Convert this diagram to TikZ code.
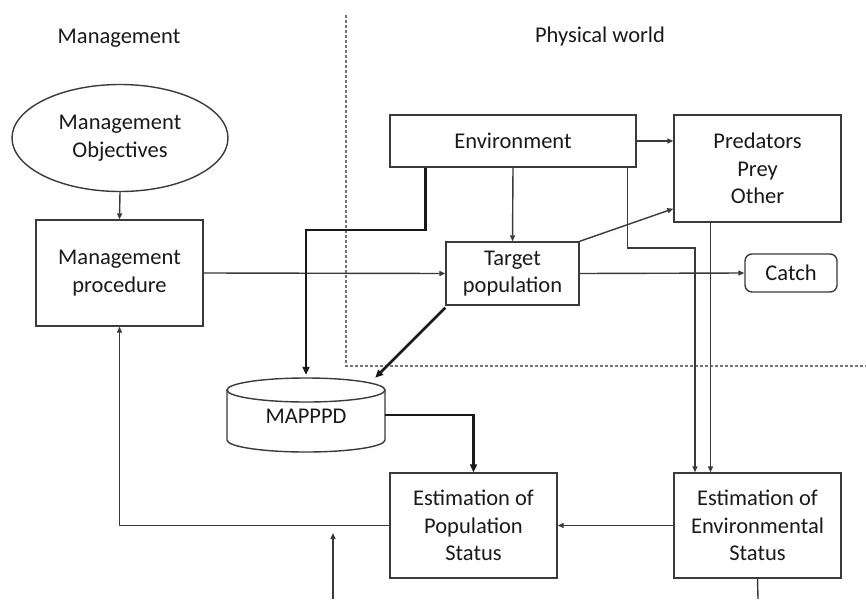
\documentclass[tikz,border=0pt]{standalone}
\usepackage{fontspec}
\setmainfont{Carlito}
\usetikzlibrary{arrows.meta,calc,shapes.geometric}
\definecolor{ln}{HTML}{3A3A3A}
\definecolor{tx}{HTML}{1A1A1A}
\tikzset{
  box/.style={draw=ln, line width=1.4pt, align=center, text=tx, inner sep=0pt},
  lbl/.style={text=tx, inner sep=0pt},
  conn/.style={draw=ln, line width=1.4pt, -{Triangle[length=6pt,width=5pt]}},
  plain/.style={draw=ln, line width=1.4pt},
  thick conn/.style={draw=black!90, line width=2.8pt, -{Triangle[length=8pt,width=7pt]}},
  sep/.style={draw=black!55, line width=1.2pt, dash pattern=on 3pt off 2pt},
}
\begin{document}
\begin{tikzpicture}[x=1pt,y=1pt, font=\fontsize{22.5}{27.5}\selectfont]
\useasboundingbox (0,0) rectangle (866,-599);
\fill[white] (0,0) rectangle (866,-599);
% separators
\draw[sep] (346,-15) -- (346,-366) -- (866,-366);
% labels
\node[lbl] (mlbl) at (119,-38) {Management};
\node[lbl] (plbl) at (600,-37) {Physical world};
% nodes
\node[box, ellipse, minimum width=216pt, minimum height=107pt] (obj) at (120,-138) {Management\\Objectives};
\node[box, minimum width=167pt, minimum height=106pt] (proc) at (119.5,-273) {Management\\procedure};
\node[box, minimum width=246pt, minimum height=52pt] (env) at (513,-141) {Environment};
\node[box, minimum width=167pt, minimum height=107pt] (pred) at (757.5,-168.5) {Predators\\Prey\\Other};
\node[box, minimum width=133pt, minimum height=63pt] (target) at (512.5,-273.5) {Target\\population};
\node[box, rounded corners=7pt, minimum width=92pt, minimum height=38pt] (catch) at (791,-273) {Catch};
\node[box, minimum width=167pt, minimum height=105pt] (estpop) at (473.5,-525.5) {Estimation of\\Population\\Status};
\node[box, minimum width=167pt, minimum height=105pt] (estenv) at (757.5,-525.5) {Estimation of\\Environmental\\Status};
% database cylinder
\draw[ln, line width=1.4pt] (227,-390) -- (227,-440) arc[start angle=180,end angle=360,x radius=79pt,y radius=12pt] -- (385,-390);
\draw[ln, line width=1.4pt] (306,-390) ellipse [x radius=79pt, y radius=12pt];
\node[lbl, minimum width=158pt, minimum height=74pt] (db) at (306,-416) {MAPPPD};
\coordinate (bin) at (333,-599);
\coordinate (bout) at (758,-599);
% connectors
\draw[conn] (obj.south) -- (proc.north);
\draw[conn] (proc.east) -- (target.west);
\draw[conn] (env.south) -- (target.north);
\draw[conn] (env.east) -- (env.east -| pred.west);
\draw[conn] (target.north east) -- ($(pred.south west)+(0,14)$);
\draw[conn] (target.east) -- (catch.west);
\draw[conn] ($(env.south east)+(-9,0)$) |- (695,-248) -- (695,-248 |- estenv.north);
\draw[conn] ($(pred.south)+(-47,0)$) -- ($(estenv.north)+(-47,0)$);
\draw[thick conn] ($(env.south west)+(36,0)$) |- (306,-230) -- ($(db.north)+(0,4)$);
\draw[thick conn] ($(target.south west)+(0,-2)$) -- ($(db.north east)+(-10,1)$);
\draw[thick conn] (385,-415) -| (estpop.north);
\draw[conn] (estenv.west) -- (estpop.east);
\draw[conn] (estpop.west) -| (proc.south);
\draw[conn] (bin) -- (333,-533);
\draw[plain] (estenv.south) -- (bout);
\end{tikzpicture}
\end{document}
